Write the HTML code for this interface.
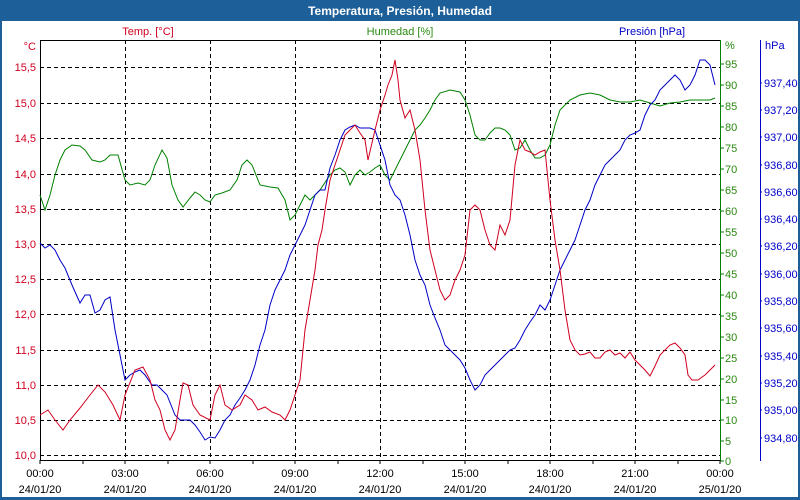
<!DOCTYPE html>
<html><head><meta charset="utf-8"><style>
html,body{margin:0;padding:0;background:#fff}
svg{display:block;font-family:"Liberation Sans",sans-serif}
</style></head><body>
<svg width="800" height="500" xmlns="http://www.w3.org/2000/svg">
<rect x="0" y="0" width="800" height="500" fill="#1d5f98"/>
<rect x="2" y="21" width="796" height="476" fill="#fff"/>
<text x="400" y="15" text-anchor="middle" font-size="12" font-weight="bold" fill="#fff">Temperatura, Presión, Humedad</text>
<g stroke="#000" stroke-dasharray="4,3" stroke-width="1">
<line x1="40" y1="67.5" x2="720" y2="67.5"/><line x1="40" y1="103.5" x2="720" y2="103.5"/>
<line x1="40" y1="138.5" x2="720" y2="138.5"/><line x1="40" y1="174.5" x2="720" y2="174.5"/>
<line x1="40" y1="209.5" x2="720" y2="209.5"/><line x1="40" y1="244.5" x2="720" y2="244.5"/>
<line x1="40" y1="279.5" x2="720" y2="279.5"/><line x1="40" y1="314.5" x2="720" y2="314.5"/>
<line x1="40" y1="350.5" x2="720" y2="350.5"/><line x1="40" y1="385.5" x2="720" y2="385.5"/>
<line x1="40" y1="420.5" x2="720" y2="420.5"/><line x1="40" y1="455.5" x2="720" y2="455.5"/>
<line x1="125.5" y1="40" x2="125.5" y2="460"/><line x1="210.5" y1="40" x2="210.5" y2="460"/>
<line x1="295.5" y1="40" x2="295.5" y2="460"/><line x1="380.5" y1="40" x2="380.5" y2="460"/>
<line x1="465.5" y1="40" x2="465.5" y2="460"/><line x1="550.5" y1="40" x2="550.5" y2="460"/>
<line x1="635.5" y1="40" x2="635.5" y2="460"/>
</g>
<line x1="40.5" y1="40" x2="40.5" y2="460" stroke="#000"/>
<line x1="40" y1="40.5" x2="720" y2="40.5" stroke="#000"/>
<line x1="40" y1="460.5" x2="720" y2="460.5" stroke="#000"/>
<line x1="720.5" y1="40" x2="720.5" y2="461" stroke="#008000"/>
<line x1="760.5" y1="40" x2="760.5" y2="461" stroke="#0000c8"/>
<g font-size="11" fill="#d00020" text-anchor="end">
<text x="36" y="50">°C</text>
<text x="36" y="71">15,5</text><text x="36" y="107">15,0</text><text x="36" y="142">14,5</text>
<text x="36" y="178">14,0</text><text x="36" y="213">13,5</text><text x="36" y="248">13,0</text>
<text x="36" y="283">12,5</text><text x="36" y="318">12,0</text><text x="36" y="354">11,5</text>
<text x="36" y="389">11,0</text><text x="36" y="424">10,5</text><text x="36" y="459">10,0</text>
</g>
<text x="148" y="35" font-size="11" fill="#d00020" text-anchor="middle">Temp. [°C]</text>
<text x="400" y="35" font-size="11" fill="#2a8a10" text-anchor="middle">Humedad [%]</text>
<text x="652" y="35" font-size="11" fill="#0000c8" text-anchor="middle">Presión [hPa]</text>
<g font-size="11" fill="#2a8a10">
<text x="725" y="49">%</text>
<text x="725" y="68">95</text><text x="725" y="89">90</text><text x="725" y="110">85</text><text x="725" y="131">80</text>
<text x="725" y="152">75</text><text x="725" y="173">70</text><text x="725" y="194">65</text><text x="725" y="215">60</text>
<text x="725" y="236">55</text><text x="725" y="257">50</text><text x="725" y="278">45</text><text x="725" y="299">40</text>
<text x="725" y="320">35</text><text x="725" y="341">30</text><text x="725" y="362">25</text><text x="725" y="383">20</text>
<text x="725" y="404">15</text><text x="725" y="424">10</text><text x="725" y="445">5</text><text x="725" y="465">0</text>
</g>
<g stroke="#008000"><path d="M720 64h4M720 85h4M720 106h4M720 127h4M720 148h4M720 169h4M720 190h4M720 211h4M720 232h4M720 253h4M720 274h4M720 295h4M720 316h4M720 337h4M720 358h4M720 379h4M720 400h4M720 420h4M720 441h4M720 461h4"/></g>
<g font-size="11" fill="#0000c8">
<text x="765" y="49">hPa</text>
<text x="764" y="87">937,40</text><text x="764" y="114">937,20</text><text x="764" y="141">937,00</text>
<text x="764" y="169">936,80</text><text x="764" y="196">936,60</text><text x="764" y="223">936,40</text>
<text x="764" y="250">936,20</text><text x="764" y="278">936,00</text><text x="764" y="305">935,80</text>
<text x="764" y="332">935,60</text><text x="764" y="360">935,40</text><text x="764" y="387">935,20</text>
<text x="764" y="414">935,00</text><text x="764" y="442">934,80</text>
</g>
<g stroke="#0000c8"><path d="M760 83h2M760 110h2M760 137h2M760 165h2M760 192h2M760 219h2M760 246h2M760 274h2M760 301h2M760 328h2M760 356h2M760 383h2M760 410h2M760 438h2"/></g>
<g stroke="#000"><path d="M83 460v4M168 460v4M253 460v4M338 460v4M423 460v4M508 460v4M593 460v4M678 460v4M40 460v4M125 460v4M210 460v4M295 460v4M380 460v4M465 460v4M550 460v4M635 460v4M720 460v4"/></g>
<g font-size="11" fill="#000" text-anchor="middle">
<text x="40" y="477">00:00</text><text x="40" y="493">24/01/20</text>
<text x="125" y="477">03:00</text><text x="125" y="493">24/01/20</text>
<text x="210" y="477">06:00</text><text x="210" y="493">24/01/20</text>
<text x="295" y="477">09:00</text><text x="295" y="493">24/01/20</text>
<text x="380" y="477">12:00</text><text x="380" y="493">24/01/20</text>
<text x="465" y="477">15:00</text><text x="465" y="493">24/01/20</text>
<text x="550" y="477">18:00</text><text x="550" y="493">24/01/20</text>
<text x="635" y="477">21:00</text><text x="635" y="493">24/01/20</text>
<text x="720" y="477">00:00</text><text x="720" y="493">25/01/20</text>
</g>
<polyline fill="none" stroke="#008000" stroke-width="1" points="40,195 45,210 50,195 55,175 60,160 65,150 72,145 80,146 85,150 92,160 100,162 105,160 110,155 118,155 125,180 130,185 138,183 145,185 150,180 155,165 162,150 167,158 172,185 178,200 183,207 190,198 195,192 200,195 205,200 210,202 215,195 222,193 230,190 237,180 242,165 247,160 252,165 260,185 270,187 278,188 285,200 290,220 295,215 300,205 305,195 310,200 315,195 320,190 330,175 335,170 340,168 345,172 350,185 355,175 360,170 365,175 370,172 375,168 380,165 385,175 390,180 395,170 400,160 405,150 410,140 415,130 420,125 425,118 430,110 435,100 440,93 450,90 460,92 465,100 470,115 475,135 480,140 485,140 490,133 495,128 500,128 505,130 510,135 515,150 520,148 525,140 530,150 535,158 540,158 545,155 550,145 555,125 560,110 570,100 580,95 590,93 600,95 610,100 620,102 630,102 640,100 650,103 660,106 670,103 680,102 690,100 700,100 710,100 715,98"/>
<polyline fill="none" stroke="#0000c8" stroke-width="1" points="40,243 45,248 50,245 55,250 60,260 65,268 72,285 80,303 85,295 90,295 95,313 100,310 105,300 110,297 115,330 120,355 125,380 130,375 135,372 140,370 145,375 152,385 157,385 162,390 167,395 175,415 180,420 190,420 195,425 200,432 205,440 210,437 215,438 220,430 225,420 230,415 235,405 240,398 245,390 250,380 255,365 260,345 265,330 270,305 275,290 280,280 285,270 290,255 295,245 300,235 305,225 310,210 315,195 320,190 325,190 330,168 335,155 340,140 345,130 350,127 355,125 360,128 365,128 370,128 375,130 380,145 385,160 390,185 395,195 400,200 405,215 410,235 415,260 420,275 425,285 430,305 435,318 440,330 445,345 450,350 455,355 460,360 465,368 470,380 475,390 480,385 485,375 490,370 495,365 500,360 505,355 510,350 515,348 520,340 525,330 530,322 535,315 540,305 545,310 550,300 555,285 560,270 565,260 570,250 575,240 580,225 585,210 590,200 595,185 600,175 605,165 610,160 615,155 620,150 625,140 630,135 635,133 640,130 645,115 650,105 655,100 660,90 665,85 670,80 675,75 680,80 685,90 690,85 695,75 700,60 705,60 710,65 715,85"/>
<polyline fill="none" stroke="#d00020" stroke-width="1" points="40,415 48,410 55,420 63,430 70,420 80,408 90,395 98,385 105,392 113,405 120,420 125,395 135,370 143,367 150,380 155,400 160,410 165,430 170,440 175,430 180,400 183,383 188,385 193,405 200,415 210,420 215,395 220,385 225,405 232,410 240,405 245,395 252,400 258,410 265,407 272,412 280,415 285,420 290,410 295,395 300,380 305,330 310,300 315,270 318,245 322,230 325,210 330,180 335,165 340,150 345,135 350,130 355,125 360,133 365,140 368,160 375,130 380,110 385,95 388,85 392,75 395,60 398,80 400,100 405,118 410,110 415,130 420,160 425,210 430,250 435,270 440,290 445,300 450,295 455,280 460,270 465,255 470,210 475,205 480,210 485,230 490,245 495,250 500,225 505,235 510,220 515,165 520,140 525,150 530,152 535,155 540,152 545,150 550,200 555,240 560,270 565,310 570,340 575,350 580,355 585,354 590,352 595,358 600,358 605,352 610,350 615,355 620,353 625,358 630,352 635,360 640,365 645,370 650,376 655,366 660,355 665,350 670,345 675,343 680,348 685,355 688,375 692,380 698,380 705,375 710,370 715,365"/>
</svg>
</body></html>
